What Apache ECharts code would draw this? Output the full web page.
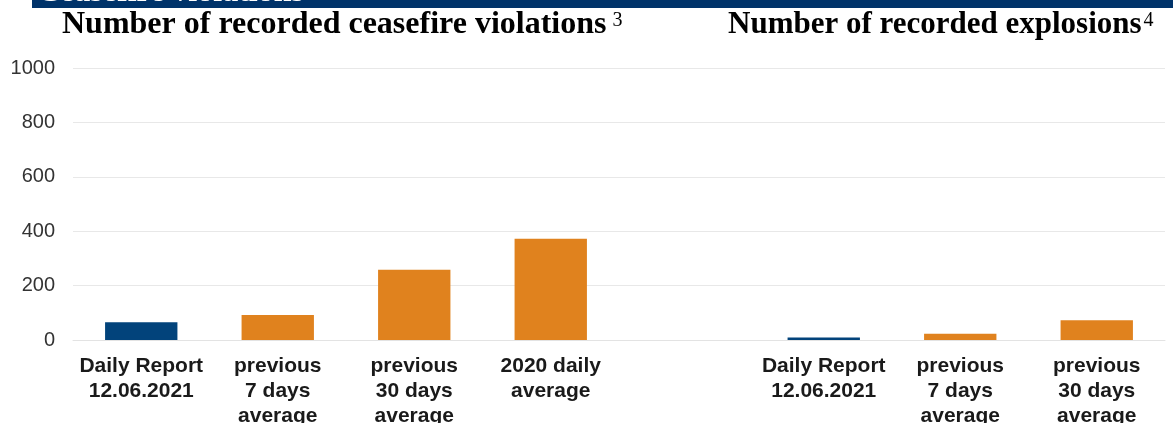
<!DOCTYPE html>
<html>
<head>
<meta charset="utf-8">
<script src="https://cdn.jsdelivr.net/npm/echarts@6/dist/echarts.min.js"></script>
<style>
html,body{margin:0;padding:0;background:#fff;}
#chart{width:1173px;height:423px;}
</style>
</head>
<body>
<div id="chart"></div>
<script>
// ---- data ----
const violationCategories = ['Daily Report\n12.06.2021', 'previous\n7 days\naverage', 'previous\n30 days\naverage', '2020 daily\naverage'];
const violationValues = [65, 92, 258, 372];
const explosionCategories = ['Daily Report\n12.06.2021', 'previous\n7 days\naverage', 'previous\n30 days\naverage'];
const explosionValues = [9, 23, 73];
const yTicks = [0, 200, 400, 600, 800, 1000];
const bannerText = 'Ceasefire violations';
const leftTitle = 'Number of recorded ceasefire violations';
const leftNote = '3';
const rightTitle = 'Number of recorded explosions';
const rightNote = '4';

const BLUE = '#02437b';
const ORANGE = '#e0821e';

// combined axis: left group, one empty slot, right group
const categories = violationCategories.concat([''], explosionCategories);
const barData = [];
violationValues.forEach((v, i) => barData.push({ value: v, itemStyle: { color: i === 0 ? BLUE : ORANGE } }));
barData.push('-');
explosionValues.forEach((v, i) => barData.push({ value: v, itemStyle: { color: i === 0 ? BLUE : ORANGE } }));

const SERIF = '"Liberation Serif", "Times New Roman", serif';
const chart = echarts.init(document.getElementById('chart'), null, { renderer: 'canvas' });
function titleRich(size, gap) {
  return {
    t: { fontFamily: SERIF, fontWeight: 'bold', fontSize: size, color: '#000', lineHeight: 36 },
    s: { fontFamily: SERIF, fontWeight: 'normal', fontSize: 20, color: '#000', lineHeight: 20, verticalAlign: 'top', padding: [4, 0, 0, gap] }
  };
}
chart.setOption({
  animation: false,
  title: [
    { text: '{t|' + leftTitle + '}{s|' + leftNote + '}', left: 62, top: 7, padding: 0, textStyle: { rich: titleRich(32, 6) } },
    { text: '{t|' + rightTitle + '}{s|' + rightNote + '}', left: 728, top: 7, padding: 0, textStyle: { rich: titleRich(31, 2) } }
  ],
  graphic: [
    { type: 'rect', left: 32, top: 0, shape: { width: 1141, height: 8 }, style: { fill: '#00336a' }, z: 10 },
    { type: 'text', x: 37, y: -7, z: 11,
      style: { text: bannerText, fill: '#fff', font: 'bold 32px "Liberation Serif", serif', verticalAlign: 'middle', align: 'left' } }
  ],
  grid: { left: 73, right: 8, top: 68, bottom: 83, containLabel: false, outerBoundsMode: 'none' },
  xAxis: {
    type: 'category',
    data: categories,
    axisLine: { show: true, lineStyle: { color: '#e3e3e3', width: 1 } },
    axisTick: { show: false },
    axisLabel: {
      interval: 0, margin: 14,
      fontFamily: '"Liberation Sans", Arial, sans-serif', fontWeight: 'bold', fontSize: 21,
      lineHeight: 25, color: '#1a1a1a'
    }
  },
  yAxis: {
    type: 'value', min: yTicks[0], max: yTicks[yTicks.length - 1], interval: yTicks[1] - yTicks[0],
    axisLine: { show: false }, axisTick: { show: false },
    axisLabel: { margin: 18, fontFamily: '"Liberation Sans", Arial, sans-serif', fontSize: 20, color: '#333',
      formatter: v => String(v) },
    splitLine: { lineStyle: { color: '#e8e8e8', width: 1 } }
  },
  series: [{
    type: 'bar',
    data: barData,
    barWidth: '53%'
  }]
});
</script>
</body>
</html>
